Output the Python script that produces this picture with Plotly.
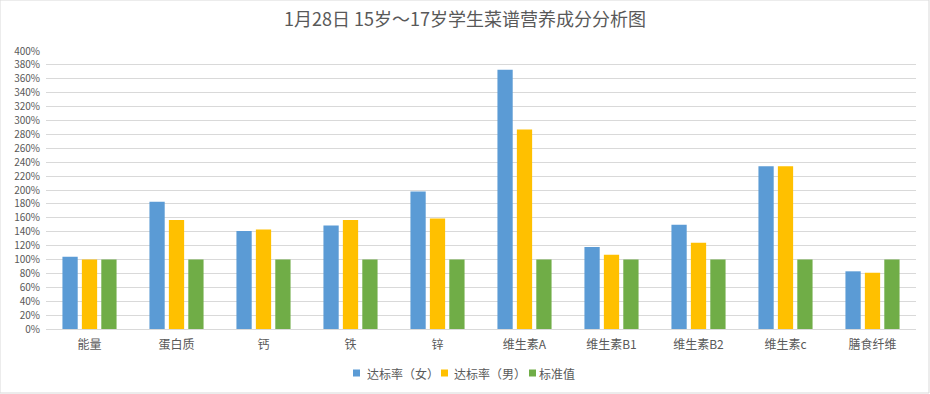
import plotly.graph_objects as go

categories = ["能量", "蛋白质", "钙", "铁", "锌", "维生素A", "维生素B1", "维生素B2", "维生素c", "膳食纤维"]
female = [104, 183, 141, 149, 198, 373, 118, 150, 234, 83]
male = [100, 157, 143, 157, 159, 287, 107, 124, 234, 81]
standard = [100, 100, 100, 100, 100, 100, 100, 100, 100, 100]
series_names = ["达标率（女）", "达标率（男）", "标准值"]
colors = ["#5B9BD5", "#FFC000", "#70AD47"]
tick_vals = list(range(0, 401, 20))
tick_text = [f"{v}%" for v in tick_vals]

W, H = 930, 394
ml, mr, mt, mb = 46, 14, 51, 65
pw, ph = W - ml - mr, H - mt - mb
FONT = "Noto Sans CJK SC, Microsoft YaHei, sans-serif"
GREY = "#595959"

fig = go.Figure()
for name, vals, c in zip(series_names, [female, male, standard], colors):
    fig.add_trace(go.Bar(x=categories, y=vals, name=name, marker=dict(color=c, line=dict(width=0))))

# custom compact legend (Excel style), positioned in pixels converted to paper coords
legend_y_px = 373
legend_items_px = [(353, 365), (441, 452), (529, 537)]  # (square left, text left)
shapes = [dict(type="rect", xref="paper", yref="paper",
               x0=-ml / pw, x1=(W - 1 - ml) / pw,
               y0=-(mb - 1) / ph, y1=(ph + mt) / ph,
               line=dict(color="#D9D9D9", width=1), fillcolor="rgba(0,0,0,0)", layer="below")]
annotations = []
def px_x(x):
    return (x - ml) / pw
def px_y(y):
    return (mt + ph - y) / ph
for (sq, tx), name, c in zip(legend_items_px, series_names, colors):
    shapes.append(dict(type="rect", xref="paper", yref="paper",
                       x0=px_x(sq), x1=px_x(sq + 7), y0=px_y(legend_y_px + 3.5), y1=px_y(legend_y_px - 3.5),
                       fillcolor=c, line=dict(width=0)))
    annotations.append(dict(text=name, xref="paper", yref="paper", x=px_x(tx), y=px_y(legend_y_px),
                            xanchor="left", yanchor="middle", showarrow=False,
                            font=dict(size=12, color=GREY, family=FONT)))

fig.update_layout(
    width=W, height=H,
    margin=dict(l=ml, r=mr, t=mt, b=mb),
    paper_bgcolor="white", plot_bgcolor="white",
    font=dict(family=FONT, color=GREY, size=11),
    title=dict(text="1月28日 15岁～17岁学生菜谱营养成分分析图", x=0.5, xanchor="center",
               y=1 - 20 / H, yanchor="middle", font=dict(size=18, color=GREY)),
    barmode="group", bargap=0.33, bargroupgap=0.215,
    showlegend=False,
    xaxis=dict(showgrid=False, showline=True, linecolor="#D9D9D9", linewidth=1, ticks="",
               tickfont=dict(size=12, color=GREY), automargin=False, ticklabelstandoff=5),
    yaxis=dict(range=[0, 400], tickvals=tick_vals, ticktext=tick_text, showgrid=True,
               gridcolor="#D9D9D9", gridwidth=1, zeroline=False, showline=False, ticks="",
               tickfont=dict(size=10, color=GREY), automargin=False, ticklabelstandoff=5),
    shapes=shapes,
    annotations=annotations,
)

fig.write_html("out.html", config={"displayModeBar": False},
               post_script="document.body.style.margin='0';document.body.style.overflow='hidden';")
